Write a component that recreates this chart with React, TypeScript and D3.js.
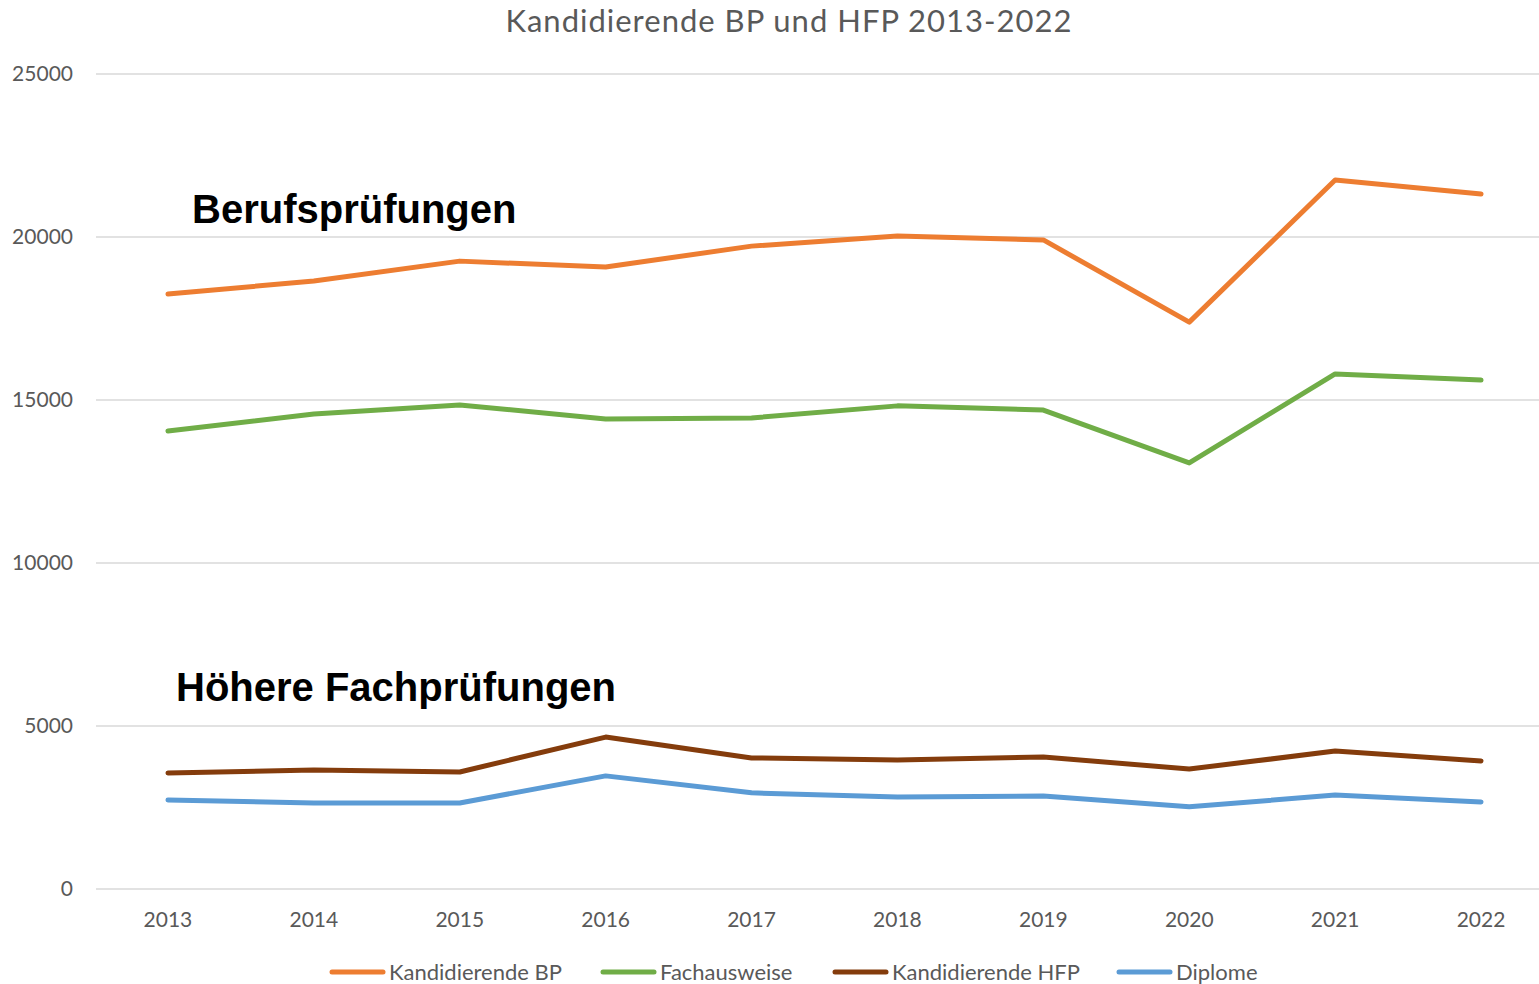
import React from 'react'
import * as d3 from 'd3'

const YEARS = ['2013', '2014', '2015', '2016', '2017', '2018', '2019', '2020', '2021', '2022']
const KANDIDIERENDE_BP = [18250, 18650, 19260, 19080, 19720, 20030, 19910, 17390, 21750, 21320]
const FACHAUSWEISE = [14050, 14570, 14850, 14420, 14450, 14820, 14690, 13070, 15800, 15610]
const KANDIDIERENDE_HFP = [3560, 3650, 3590, 4660, 4020, 3960, 4050, 3680, 4230, 3930]
const DIPLOME = [2730, 2640, 2640, 3470, 2950, 2820, 2850, 2520, 2880, 2670]
const Y_TICKS = [0, 5000, 10000, 15000, 20000, 25000]

const SERIES = [
  { name: 'Kandidierende BP', values: KANDIDIERENDE_BP, color: '#ED7D31' },
  { name: 'Fachausweise', values: FACHAUSWEISE, color: '#70AD47' },
  { name: 'Kandidierende HFP', values: KANDIDIERENDE_HFP, color: '#843C0C' },
  { name: 'Diplome', values: DIPLOME, color: '#5B9BD5' }
]

const WIDTH = 1539
const HEIGHT = 984
const LEGEND_X = [330, 601, 833, 1117]
const FONT = 'Lato, "Open Sans", sans-serif'
const BOLD = '"Liberation Sans", Arial, sans-serif'
const GREY = '#595959'

export default function App() {
  const x = d3.scaleBand<string>().domain(YEARS).range([95, 1554])
  const y = d3.scaleLinear().domain([0, 25000]).range([889, 74])
  const cx = (yr: string) => (x(yr) as number) + x.bandwidth() / 2

  const line = d3.line<number>()
    .x((_, i) => cx(YEARS[i]))
    .y(d => y(d))

  return (
    <svg
      width={WIDTH}
      height={HEIGHT}
      style={{ position: 'absolute', left: 0, top: 0, background: '#fff' }}
    >
      <text
        x={789}
        y={32}
        textAnchor="middle"
        fill={GREY}
        style={{ fontFamily: FONT, fontSize: '31px', letterSpacing: '1px' }}
      >
        Kandidierende BP und HFP 2013-2022
      </text>

      {Y_TICKS.map(t => (
        <g key={t}>
          <line x1={96} x2={WIDTH} y1={y(t)} y2={y(t)} stroke="#D9D9D9" strokeWidth={1.5} />
          <text
            x={73}
            y={y(t)}
            dy={7}
            textAnchor="end"
            fill={GREY}
            style={{ fontFamily: FONT, fontSize: '21px' }}
          >
            {t}
          </text>
        </g>
      ))}

      {YEARS.map(yr => (
        <text
          key={yr}
          x={cx(yr)}
          y={927}
          textAnchor="middle"
          fill={GREY}
          style={{ fontFamily: FONT, fontSize: '21px' }}
        >
          {yr}
        </text>
      ))}

      {SERIES.map(s => (
        <path
          key={s.name}
          d={line(s.values) || ''}
          fill="none"
          stroke={s.color}
          strokeWidth={5}
          strokeLinecap="round"
          strokeLinejoin="round"
        />
      ))}

      <text x={192} y={223} fill="#000" style={{ fontFamily: BOLD, fontSize: '40px', fontWeight: 'bold' }}>
        Berufsprüfungen
      </text>
      <text x={176} y={701} fill="#000" style={{ fontFamily: BOLD, fontSize: '40px', fontWeight: 'bold' }}>
        Höhere Fachprüfungen
      </text>

      {SERIES.map((s, i) => (
        <g key={s.name} transform={`translate(${LEGEND_X[i]},972)`}>
          <line x1={2} x2={53} y1={0} y2={0} stroke={s.color} strokeWidth={5} strokeLinecap="round" />
          <text
            x={59}
            y={0}
            dy={7.5}
            fill={GREY}
            style={{ fontFamily: FONT, fontSize: '22px' }}
          >
            {s.name}
          </text>
        </g>
      ))}
    </svg>
  )
}
